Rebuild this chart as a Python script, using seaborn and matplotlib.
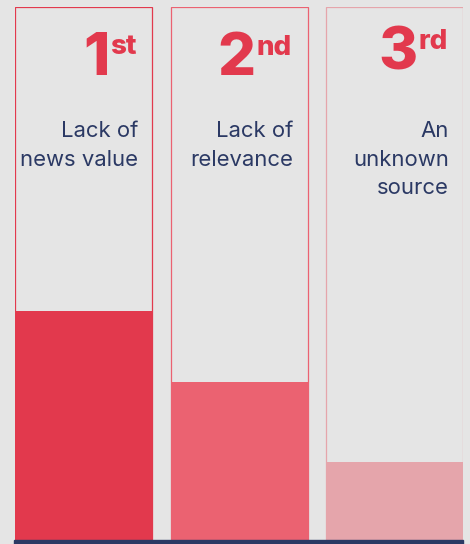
import matplotlib
matplotlib.use("Agg")
import matplotlib.pyplot as plt
from matplotlib.patches import Rectangle
import seaborn as sns
import pandas as pd

# Top reasons, ranked, with their share of the full scale
rank_numbers = ["1", "2", "3"]
rank_suffixes = ["st", "nd", "rd"]
reasons = ["Lack of\nnews value", "Lack of\nrelevance", "An\nunknown\nsource"]
shares = [43.0, 29.6, 14.6]
scale_max = [100, 100, 100]
bar_colors = ["#e2394d", "#eb6271", "#e5a5ab"]

W, H = 470, 544
BG = "#e5e5e5"
NAVY = "#2b3964"
RED = "#e2394d"

sns.set_theme(style="white")
plt.rcParams["font.family"] = ["Inter", "DejaVu Sans"]

fig = plt.figure(figsize=(W / 100, H / 100), dpi=100, facecolor=BG)
ax = fig.add_axes([15 / W, 4 / H, 448 / W, 533 / H])
ax.set_facecolor("none")

df = pd.DataFrame({"reason": reasons, "share": shares, "full": scale_max})
bar_w = 137 / 155.5

# filled bars
sns.barplot(data=df, x="reason", y="share", hue="reason", palette=bar_colors,
            width=bar_w, saturation=1, legend=False, ax=ax, linewidth=0)
# column outlines spanning the full scale
sns.barplot(data=df, x="reason", y="full", hue="reason", palette=bar_colors,
            width=bar_w, saturation=1, legend=False, ax=ax, fill=False,
            linewidth=0.9)

left = -0.5 * bar_w
ax.set_xlim(left, left + 448 / 155.5)
ax.set_ylim(0, 100)
ax.axis("off")

# navy base rule
fig.patches.append(Rectangle((14 / W, 0), 449 / W, 4 / H, transform=fig.transFigure,
                             color=NAVY, zorder=5))


def fx(px):
    return px / W


def fy(py):
    return 1 - py / H


col_right = [152, 307, 463]
rank_base = [75, 75, 70]
suffix_base = [54, 55, 49]

fig.canvas.draw()
renderer = fig.canvas.get_renderer()
for i in range(3):
    suf = fig.text(fx(col_right[i] - 15), fy(suffix_base[i]), rank_suffixes[i],
                   ha="right", va="baseline", color=RED, fontsize=20,
                   fontweight="heavy")
    bb = suf.get_window_extent(renderer)
    fig.text(fx(bb.x0 - 1), fy(rank_base[i]), rank_numbers[i], ha="right",
             va="baseline", color=RED, fontsize=43, fontweight="heavy")
    for j, line in enumerate(reasons[i].split("\n")):
        fig.text(fx(col_right[i] - 14), fy(137 + 28.7 * j), line, ha="right",
                 va="baseline", color=NAVY, fontsize=15.9)

fig.savefig("out.png", dpi=100, facecolor=BG)
